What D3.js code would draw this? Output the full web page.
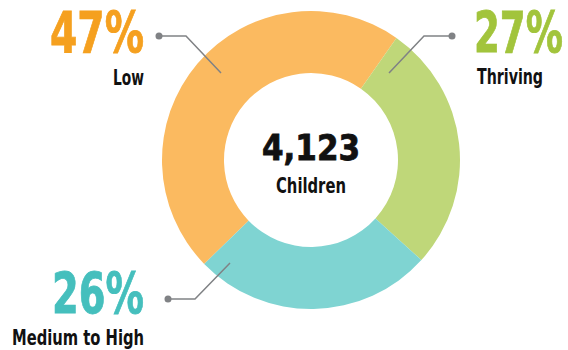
<!DOCTYPE html>
<html>
<head>
<meta charset="utf-8">
<script src="https://cdn.jsdelivr.net/npm/d3@7"></script>
<style>
  html, body { margin: 0; padding: 0; background: #fff; }
  svg { display: block; }
  text { font-family: "Liberation Sans Narrow", "DejaVu Sans Condensed", "Liberation Sans", sans-serif; font-weight: bold; }
</style>
</head>
<body>
<svg width="568" height="350"></svg>
<script>
// data
const categories = ["Low", "Thriving", "Medium to High"];
const values = [47, 27, 26];
const totalLabel = "4,123";
const totalUnit = "Children";

const sliceColors = ["#fbba60", "#bfd779", "#7fd4d2"];
const textColors = ["#f5a01f", "#a2c43c", "#45bfbd"];

const svg = d3.select("svg");
const cx = 311, cy = 160;
const outerR = 149, innerR = 87;

const pie = d3.pie()
    .sort(null)
    .value(d => d)
    .startAngle(-134.2 * Math.PI / 180)
    .endAngle((360 - 134.2) * Math.PI / 180);

const arc = d3.arc().innerRadius(innerR).outerRadius(outerR);

const chart = svg.append("g").attr("transform", `translate(${cx},${cy})`);

chart.selectAll("path")
    .data(pie(values))
    .enter().append("path")
    .attr("d", arc)
    .attr("fill", (d, i) => sliceColors[i]);

// center label
chart.append("text")
    .attr("text-anchor", "middle")
    .attr("y", 0)
    .attr("font-size", 35)
    .attr("textLength", 98)
    .attr("lengthAdjust", "spacingAndGlyphs")
    .attr("fill", "#111")
    .attr("stroke", "#111")
    .attr("stroke-width", 0.8)
    .text(totalLabel);

chart.append("text")
    .attr("text-anchor", "middle")
    .attr("y", 33)
    .attr("font-size", 22)
    .attr("textLength", 70)
    .attr("lengthAdjust", "spacingAndGlyphs")
    .attr("fill", "#111")
    .text(totalUnit);

// annotation layout (label placement + leader lines)
const notes = [
  { pctAnchor: "end", pctX: 144, pctY: 53, pctW: 94,
    labAnchor: "end", labX: 144, labY: 85, labW: 31,
    line: [[159, 36], [186, 36], [221, 73]] },
  { pctAnchor: "end", pctX: 563, pctY: 53, pctW: 89,
    labAnchor: "start", labX: 477, labY: 84, labW: 66,
    line: [[452, 36], [424, 36], [389, 73]] },
  { pctAnchor: "end", pctX: 144, pctY: 314, pctW: 92,
    labAnchor: "end", labX: 144, labY: 345, labW: 132,
    line: [[168, 299], [195, 299], [230, 263]] }
];

const ann = svg.append("g");

notes.forEach((n, i) => {
  ann.append("path")
      .attr("d", d3.line()(n.line))
      .attr("fill", "none")
      .attr("stroke", "#808285")
      .attr("stroke-width", 1.5);
  ann.append("circle")
      .attr("cx", n.line[0][0])
      .attr("cy", n.line[0][1])
      .attr("r", 3.5)
      .attr("fill", "#808285");

  ann.append("text")
      .attr("x", n.pctX)
      .attr("y", n.pctY)
      .attr("text-anchor", n.pctAnchor)
      .attr("font-size", 57)
      .attr("textLength", n.pctW)
      .attr("lengthAdjust", "spacingAndGlyphs")
      .attr("fill", textColors[i])
      .attr("stroke", textColors[i])
      .attr("stroke-width", 0.8)
      .text(values[i] + "%");

  ann.append("text")
      .attr("x", n.labX)
      .attr("y", n.labY)
      .attr("text-anchor", n.labAnchor)
      .attr("font-size", 22)
      .attr("textLength", n.labW)
      .attr("lengthAdjust", "spacingAndGlyphs")
      .attr("fill", "#111")
      .text(categories[i]);
});
</script>
</body>
</html>
